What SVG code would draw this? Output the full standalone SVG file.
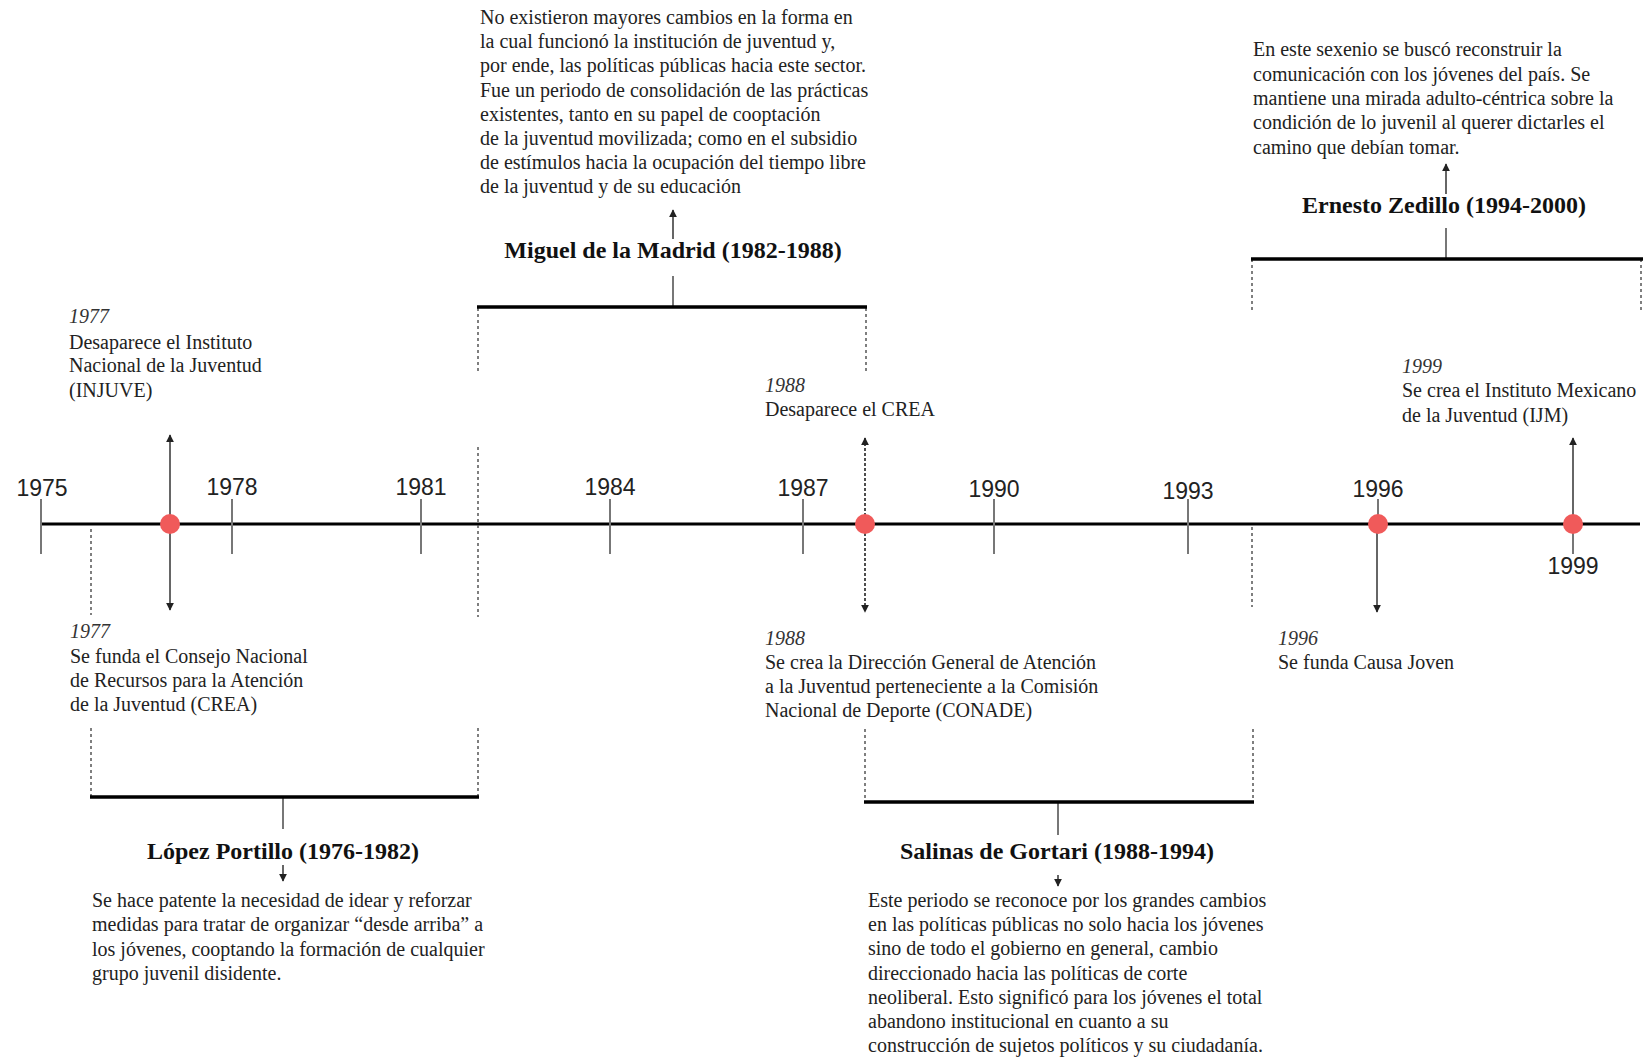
<svg xmlns="http://www.w3.org/2000/svg" width="1646" height="1057" viewBox="0 0 1646 1057">
  <defs>
    <marker id="head" viewBox="0 0 10 10" refX="9" refY="5" markerUnits="userSpaceOnUse" markerWidth="8" markerHeight="9" orient="auto-start-reverse">
      <path d="M0,0 L10,5 L0,10 z" fill="#222"/>
    </marker>
    <style>
      .axis { stroke: #000; stroke-width: 3; fill: none; }
      .tick { stroke: #777; stroke-width: 2; fill: none; }
      .year { font-family: "Liberation Sans", Arial, sans-serif; font-size: 23px; fill: #222; text-anchor: middle; }
      .dot { fill: #f05a5a; }
      .bracket { stroke: #000; stroke-width: 3.5; fill: none; }
      .stem { stroke: #777; stroke-width: 2; fill: none; }
      .guide { stroke: #555; stroke-width: 1.5; stroke-dasharray: 3 3; fill: none; }
      .arrow { stroke: #333; stroke-width: 1.5; fill: none; }
      .arrow-dash { stroke: #222; stroke-width: 1.6; stroke-dasharray: 3 2; fill: none; }
      .title { font-family: "Liberation Serif", "Times New Roman", serif; font-size: 24px; font-weight: bold; fill: #111; text-anchor: middle; }
      .body { font-family: "Liberation Serif", "Times New Roman", serif; font-size: 20px; fill: #222; }
      .date { font-family: "Liberation Serif", "Times New Roman", serif; font-size: 20px; font-style: italic; fill: #333; }
    </style>
  </defs>

  <rect width="1646" height="1057" fill="#fff"/>

  <!-- time axis with yearly ticks -->
  <g id="axis">
    <line class="axis" x1="41" y1="524" x2="1640" y2="524"/>
    <line class="tick" x1="41" y1="499" x2="41" y2="554"/>
    <line class="tick" x1="232" y1="499" x2="232" y2="554"/>
    <line class="tick" x1="421" y1="499" x2="421" y2="554"/>
    <line class="tick" x1="610" y1="499" x2="610" y2="554"/>
    <line class="tick" x1="803" y1="499" x2="803" y2="554"/>
    <line class="tick" x1="994" y1="499" x2="994" y2="554"/>
    <line class="tick" x1="1188" y1="499" x2="1188" y2="554"/>
    <line class="tick" x1="1378" y1="499" x2="1378" y2="524"/>
    <line class="tick" x1="1573" y1="524" x2="1573" y2="554"/>
    <text class="year" x="42" y="496">1975</text>
    <text class="year" x="232" y="495">1978</text>
    <text class="year" x="421" y="495">1981</text>
    <text class="year" x="610" y="495">1984</text>
    <text class="year" x="803" y="496">1987</text>
    <text class="year" x="994" y="497">1990</text>
    <text class="year" x="1188" y="499">1993</text>
    <text class="year" x="1378" y="497">1996</text>
    <text class="year" x="1573" y="574">1999</text>
  </g>

  <!-- connectors: event arrows, bracket stems and period guides -->
  <g id="connectors">
    <!-- period guide lines -->
    <line class="guide" x1="91" y1="529" x2="91" y2="615"/>
    <line class="guide" x1="91" y1="728" x2="91" y2="797"/>
    <line class="guide" x1="478" y1="728" x2="478" y2="797"/>
    <line class="guide" x1="478" y1="447" x2="478" y2="617"/>
    <line class="guide" x1="478" y1="308" x2="478" y2="373"/>
    <line class="guide" x1="866" y1="308" x2="866" y2="373"/>
    <line class="guide" x1="865" y1="729" x2="865" y2="802"/>
    <line class="guide" x1="1253" y1="729" x2="1253" y2="802"/>
    <line class="guide" x1="1252" y1="527" x2="1252" y2="607"/>
    <line class="guide" x1="1252" y1="259" x2="1252" y2="310"/>
    <line class="guide" x1="1641" y1="259" x2="1641" y2="310"/>

    <!-- event arrows -->
    <line class="arrow" x1="170" y1="435" x2="170" y2="610" marker-start="url(#head)" marker-end="url(#head)"/>
    <line class="arrow-dash" x1="865" y1="438" x2="865" y2="612" marker-start="url(#head)" marker-end="url(#head)"/>
    <line class="arrow" x1="1377" y1="524" x2="1377" y2="612" marker-end="url(#head)"/>
    <line class="arrow" x1="1573" y1="524" x2="1573" y2="438" marker-end="url(#head)"/>

    <!-- bracket stems -->
    <line class="stem" x1="283" y1="797" x2="283" y2="829"/>
    <line class="stem" x1="673" y1="276" x2="673" y2="307"/>
    <line class="stem" x1="1058" y1="802" x2="1058" y2="835"/>
    <line class="stem" x1="1446" y1="228" x2="1446" y2="259"/>

    <!-- title to description arrows -->
    <line class="arrow" x1="283" y1="865" x2="283" y2="881" marker-end="url(#head)"/>
    <line class="arrow" x1="673" y1="239" x2="673" y2="210" marker-end="url(#head)"/>
    <line class="arrow" x1="1058" y1="875" x2="1058" y2="886" marker-end="url(#head)"/>
    <line class="arrow" x1="1446" y1="194" x2="1446" y2="164" marker-end="url(#head)"/>
  </g>

  <!-- event markers on the axis -->
  <g id="event-1977-dot"><circle class="dot" cx="170" cy="524" r="10"/></g>
  <g id="event-1988-dot"><circle class="dot" cx="865" cy="524" r="10"/></g>
  <g id="event-1996-dot"><circle class="dot" cx="1378" cy="524" r="10"/></g>
  <g id="event-1999-dot"><circle class="dot" cx="1573" cy="524" r="10"/></g>

  <!-- events -->
  <g id="event-1977-injuve">
    <text class="date" x="69" y="323">1977</text>
    <text class="body" x="69" y="349">Desaparece el Instituto</text>
    <text class="body" x="69" y="372">Nacional de la Juventud</text>
    <text class="body" x="69" y="397">(INJUVE)</text>
  </g>
  <g id="event-1977-crea">
    <text class="date" x="70" y="638">1977</text>
    <text class="body" x="70" y="663">Se funda el Consejo Nacional</text>
    <text class="body" x="70" y="687">de Recursos para la Atención</text>
    <text class="body" x="70" y="711">de la Juventud (CREA)</text>
  </g>
  <g id="event-1988-crea">
    <text class="date" x="765" y="392">1988</text>
    <text class="body" x="765" y="416">Desaparece el CREA</text>
  </g>
  <g id="event-1988-conade">
    <text class="date" x="765" y="645">1988</text>
    <text class="body" x="765" y="669">Se crea la Dirección General de Atención</text>
    <text class="body" x="765" y="693">a la Juventud perteneciente a la Comisión</text>
    <text class="body" x="765" y="717">Nacional de Deporte (CONADE)</text>
  </g>
  <g id="event-1996">
    <text class="date" x="1278" y="645">1996</text>
    <text class="body" x="1278" y="669">Se funda Causa Joven</text>
  </g>
  <g id="event-1999">
    <text class="date" x="1402" y="373">1999</text>
    <text class="body" x="1402" y="397">Se crea el Instituto Mexicano</text>
    <text class="body" x="1402" y="422">de la Juventud (IJM)</text>
  </g>

  <!-- presidential periods -->
  <g id="period-lopez-portillo">
    <line class="bracket" x1="90" y1="797" x2="479" y2="797"/>
    <text class="title" x="283" y="859">López Portillo (1976-1982)</text>
    <text class="body" x="92" y="907">Se hace patente la necesidad de idear y reforzar</text>
    <text class="body" x="92" y="931">medidas para tratar de organizar “desde arriba” a</text>
    <text class="body" x="92" y="956">los jóvenes, cooptando la formación de cualquier</text>
    <text class="body" x="92" y="980">grupo juvenil disidente.</text>
  </g>
  <g id="period-de-la-madrid">
    <line class="bracket" x1="477" y1="307" x2="867" y2="307"/>
    <text class="title" x="673" y="258">Miguel de la Madrid (1982-1988)</text>
    <text class="body" x="480" y="24">No existieron mayores cambios en la forma en</text>
    <text class="body" x="480" y="48">la cual funcionó la institución de juventud y,</text>
    <text class="body" x="480" y="72">por ende, las políticas públicas hacia este sector.</text>
    <text class="body" x="480" y="97">Fue un periodo de consolidación de las prácticas</text>
    <text class="body" x="480" y="121">existentes, tanto en su papel de cooptación</text>
    <text class="body" x="480" y="145">de la juventud movilizada; como en el subsidio</text>
    <text class="body" x="480" y="169">de estímulos hacia la ocupación del tiempo libre</text>
    <text class="body" x="480" y="193">de la juventud y de su educación</text>
  </g>
  <g id="period-salinas">
    <line class="bracket" x1="864" y1="802" x2="1254" y2="802"/>
    <text class="title" x="1057" y="859">Salinas de Gortari (1988-1994)</text>
    <text class="body" x="868" y="907">Este periodo se reconoce por los grandes cambios</text>
    <text class="body" x="868" y="931">en las políticas públicas no solo hacia los jóvenes</text>
    <text class="body" x="868" y="955">sino de todo el gobierno en general, cambio</text>
    <text class="body" x="868" y="980">direccionado hacia las políticas de corte</text>
    <text class="body" x="868" y="1004">neoliberal. Esto significó para los jóvenes el total</text>
    <text class="body" x="868" y="1028">abandono institucional en cuanto a su</text>
    <text class="body" x="868" y="1052">construcción de sujetos políticos y su ciudadanía.</text>
  </g>
  <g id="period-zedillo">
    <line class="bracket" x1="1251" y1="259" x2="1643" y2="259"/>
    <text class="title" x="1444" y="213">Ernesto Zedillo (1994-2000)</text>
    <text class="body" x="1253" y="56">En este sexenio se buscó reconstruir la</text>
    <text class="body" x="1253" y="81">comunicación con los jóvenes del país. Se</text>
    <text class="body" x="1253" y="105">mantiene una mirada adulto-céntrica sobre la</text>
    <text class="body" x="1253" y="129">condición de lo juvenil al querer dictarles el</text>
    <text class="body" x="1253" y="154">camino que debían tomar.</text>
  </g>
</svg>
